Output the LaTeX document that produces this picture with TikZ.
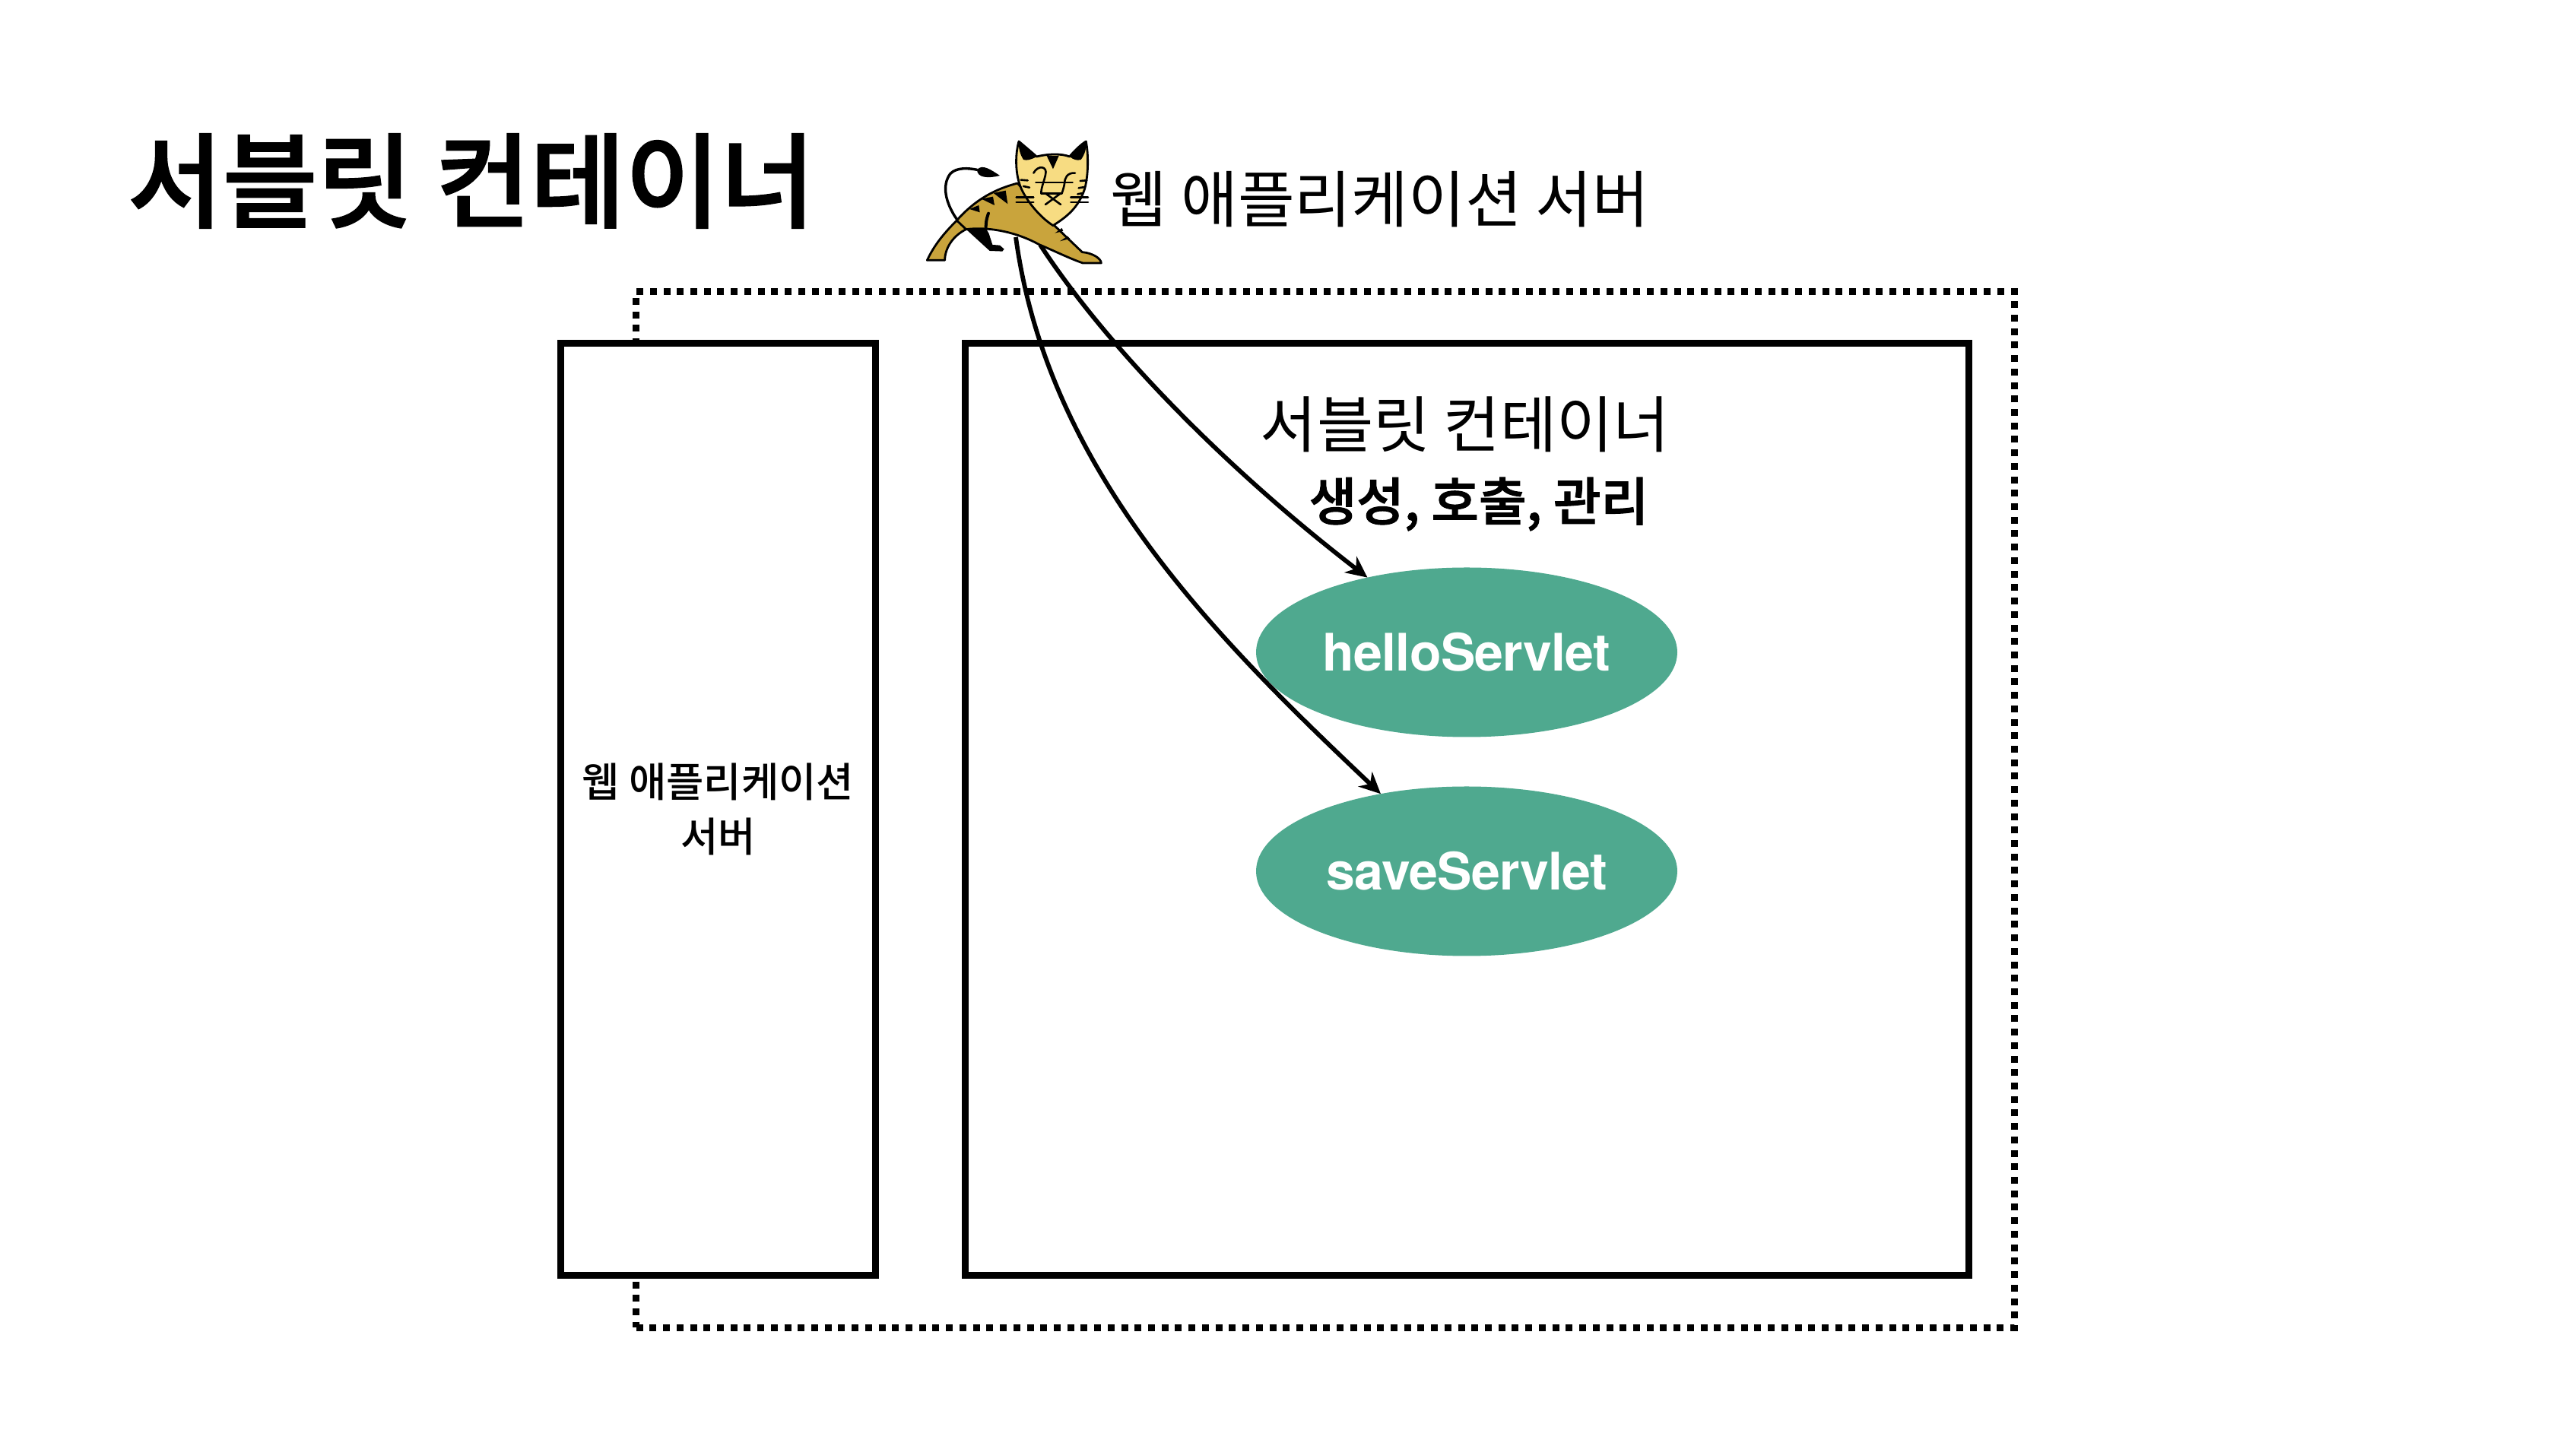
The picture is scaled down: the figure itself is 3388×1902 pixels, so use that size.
\documentclass[tikz,border=0pt]{standalone}
\usepackage{fontspec}
\usetikzlibrary{arrows.meta,shapes.geometric}
\setmainfont{Noto Sans CJK KR}
\newfontfamily\cjkmedium{Noto Sans CJK KR Medium}
\newfontfamily\cjkstrong{Noto Sans CJK KR Medium}[FakeBold=1.6]
\newfontfamily\latinb{TeX Gyre Heros}[BoldFont={* Bold},LetterSpace=-1]
\definecolor{servletgreen}{HTML}{4FA98F}
\definecolor{tomcatbody}{HTML}{C9A43C}
\definecolor{tomcatface}{HTML}{F7DC82}
\tikzset{
  boxed/.style={draw=black,line width=2.25pt,fill=white,inner sep=0pt,outer sep=0pt,align=center},
  outerbox/.style={draw=black,line width=2.25pt,dash pattern=on 2.25pt off 2.18pt,inner sep=0pt,outer sep=0pt,minimum width=453.3pt,minimum height=340.6pt},
  servlet/.style={ellipse,fill=servletgreen,inner sep=0pt,outer sep=0pt,minimum width=138.5pt,minimum height=55.75pt},
  servlettext/.style={text=white,inner sep=0pt,font=\latinb\bfseries\fontsize{17}{21}\selectfont},
  flow/.style={line width=1.45pt,-{Stealth[length=7pt,width=6.6pt,inset=2.2pt]}},
  catline/.style={draw=black,line width=0.7pt,line join=round},
  catthin/.style={draw=black,line width=0.65pt,line cap=round},
}
\begin{document}
\begin{tikzpicture}[x=0.25pt,y=-0.25pt]
\useasboundingbox[fill=white] (0,0) rectangle (3388,1902);
\node[outerbox] (server) at (1743.25,1065) {};
\node[boxed,minimum width=103.5pt,minimum height=306.5pt,font=\cjkmedium\fontsize{13.4}{17.8}\selectfont] (was) at (944.5,1064.5) {웹 애플리케이션\\서버};
\node[boxed,minimum width=330.1pt,minimum height=306.5pt] (container) at (1929.2,1064.5) {};
\node[font=\cjkstrong\fontsize{33.9}{40}\selectfont,anchor=center] (title) at (620,238) {서블릿 컨테이너};
\node[font=\fontsize{20.3}{24}\selectfont] (wastitle) at (1815,262) {웹 애플리케이션 서버};
\node[font=\fontsize{20.2}{24}\selectfont] (ctitle) at (1927,558) {서블릿 컨테이너};
\node[font=\cjkstrong\fontsize{17}{20}\selectfont] (duties) at (1945,663) {생성, 호출, 관리};
\node[servlet] (hello) at (1929,858) {};
\node[servlettext] (hellotext) at (1929,858) {helloServlet};
\node[servlet] (save) at (1929,1146) {};
\node[servlettext] (savetext) at (1929,1146) {saveServlet};
\coordinate (catA) at (1336,312);
\coordinate (catB) at (1368,322);
\draw[flow] (catA) .. controls (1378,620) and (1600,840) .. (save.138.9);
\draw[flow] (catB) .. controls (1465,470) and (1630,630) .. (hello.143.5);
% Tomcat cat
\begin{scope}[shift={(1200,160)},x=0.0833333pt,y=-0.0833333pt]
  \draw[catline,line cap=round,line width=0.85pt] (175,385) .. controls (130,320) and (115,250) .. (150,205) .. controls (175,180) and (220,183) .. (255,190);
  \fill (255,190) .. controls (275,165) and (310,190) .. (345,213) .. controls (300,225) and (255,222) .. (255,190) -- cycle;
  \fill (212,425) -- (292,425) -- (302,442) -- (316,486) -- (345,488) -- (362,503) -- (355,512) -- (305,510) -- cycle;
  \draw[catline,fill=tomcatbody] (415,243) .. controls (330,265) and (250,305) .. (175,390) .. controls (120,445) and (85,490) .. (58,547) -- (128,547) .. controls (128,500) and (160,450) .. (212,425) .. controls (290,415) and (400,430) .. (500,485) .. controls (560,510) and (620,540) .. (672,558) -- (745,558) .. controls (745,540) and (710,518) .. (670,515) -- (555,405) -- cycle;
  \draw[catline] (175,390) -- (212,425);
  \fill (320,282) -- (368,272) -- (376,325) -- cycle;
  \fill (272,305) -- (318,296) -- (324,330) -- cycle;
  \fill (225,345) -- (262,330) -- (266,358) -- cycle;
  \draw[black,line width=1pt,line cap=round] (300,362) .. controls (290,390) and (290,405) .. (290,425);
  \fill (562,440) -- (590,420) -- (595,432) -- cycle;
  \fill (582,472) -- (612,452) -- (622,462) -- cycle;
  \draw[catline,fill=tomcatface] (420,78) .. controls (440,95) and (470,120) .. (490,138) .. controls (540,126) and (590,126) .. (620,138) .. controls (640,115) and (665,90) .. (685,78) .. controls (695,130) and (695,210) .. (680,265) .. controls (655,340) and (610,375) .. (555,410) .. controls (500,375) and (450,310) .. (430,265) .. controls (405,210) and (405,130) .. (420,78) -- cycle;
  \fill (420,78) -- (490,138) .. controls (470,150) and (450,155) .. (438,150) .. controls (425,130) and (418,105) .. (420,78) -- cycle;
  \fill (685,78) -- (620,138) .. controls (635,150) and (650,155) .. (665,150) .. controls (680,130) and (688,105) .. (685,78) -- cycle;
  \fill (530,135) -- (578,135) -- (555,187) -- cycle;
  \draw[catthin] (478,203) .. controls (495,170) and (535,175) .. (525,210) .. controls (520,235) and (508,260) .. (508,283);
  \draw[catthin] (642,203) .. controls (610,200) and (600,225) .. (600,245) .. controls (598,260) and (592,275) .. (590,283);
  \draw[catthin] (487,240) -- (632,240);
  \draw[catthin] (508,283) -- (590,283);
  \draw[catthin] (525,283) -- (555,305) -- (585,283);
  \draw[catthin] (525,327) -- (555,305) -- (585,327);
  \foreach \ya in {298,318}{
    \draw[catthin] (410,\ya) -- (478,\ya);
    \draw[catthin] (625,\ya) -- (693,\ya);
  }
  \draw[catthin] (428,230) -- (455,232);
  \draw[catthin] (438,255) -- (462,260);
  \draw[catthin] (688,232) -- (662,234);
  \draw[catthin] (680,258) -- (656,262);
  \draw[catthin] (674,282) -- (652,286);
\end{scope}
\end{tikzpicture}
\end{document}
